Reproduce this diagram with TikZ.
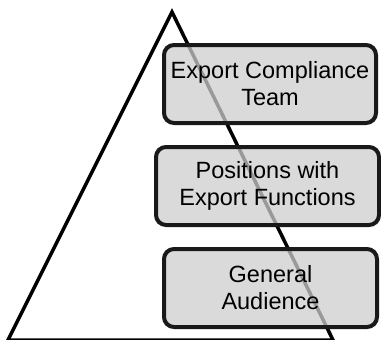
\documentclass[tikz,border=0pt]{standalone}
\usepackage{fontspec}
\setmainfont{Liberation Sans}
\begin{document}
\begin{tikzpicture}[x=1pt,y=-1pt,
  tierbox/.style={draw=black!90, line width=4pt, rounded corners=10pt,
    fill={rgb,255:red,205;green,205;blue,205}, fill opacity=0.75, text opacity=1,
    minimum height=78pt, inner sep=0pt, align=center,
    font=\fontsize{23.5}{27}\selectfont}]
\useasboundingbox (0,0) rectangle (381,340);
\coordinate (apex) at (172,12);
\coordinate (bl) at (8,340);
\coordinate (br) at (333,340);
\draw[line width=3.5pt, line join=miter] (bl) -- (apex) -- (br) -- cycle;
\node[tierbox, minimum width=212pt] (team) at (270,84) {Export Compliance\\Team};
\node[tierbox, minimum width=223pt] (pos) at (267.5,186) {Positions with\\Export Functions};
\node[tierbox, minimum width=213pt] (gen) at (270.5,288) {General\\Audience};
\end{tikzpicture}
\end{document}
